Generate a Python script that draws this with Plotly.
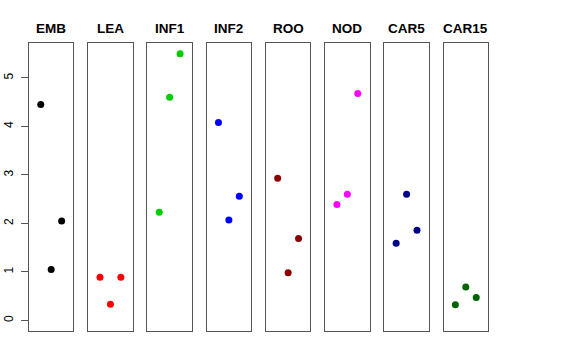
import plotly.graph_objects as go

categories = ["EMB", "LEA", "INF1", "INF2", "ROO", "NOD", "CAR5", "CAR15"]
colors = ["#000000", "#FF0000", "#00CD00", "#0000FF", "#8B0000", "#FF00FF", "#00008B", "#006400"]
# values in each panel, listed left-to-right by jitter position
values = {
    "EMB":   [4.45, 1.05, 2.05],
    "LEA":   [0.89, 0.33, 0.89],
    "INF1":  [2.23, 4.60, 5.50],
    "INF2":  [4.08, 2.07, 2.56],
    "ROO":   [2.93, 0.98, 1.69],
    "NOD":   [2.39, 2.60, 4.68],
    "CAR5":  [1.59, 2.60, 1.86],
    "CAR15": [0.32, 0.69, 0.47],
}
jitter = [0.765, 1.0, 1.235]
y_ticks = [0, 1, 2, 3, 4, 5]

W, H = 576, 360
left_px, right_px, top_px, bottom_px, title_px = 29, 488, 43, 331, 29
n = len(categories)
panel_w = 44.4
gap = ((right_px - left_px) - n * panel_w) / (n - 1)
plot_w = right_px - left_px
plot_h = bottom_px - top_px

fig = go.Figure()
frame = "#555555"
for i, cat in enumerate(categories):
    ax = "" if i == 0 else str(i + 1)
    fig.add_trace(go.Scatter(
        x=jitter, y=values[cat], mode="markers",
        marker=dict(color=colors[i], size=7),
        xaxis="x" + ax, yaxis="y" + ax, showlegend=False, hoverinfo="y"))
    x0 = (i * (panel_w + gap)) / plot_w
    x1 = min(1.0, (i * (panel_w + gap) + panel_w) / plot_w)
    xa = dict(domain=[x0, x1], range=[0.5, 1.5], showgrid=False, zeroline=False,
              showticklabels=False, ticks="", showline=True, mirror=True,
              linecolor=frame, linewidth=1, anchor="y" + ax, automargin=False)
    ya = dict(domain=[0, 1], range=[-0.22, 5.72],
              showgrid=False, zeroline=False, showline=True, mirror=True,
              linecolor=frame, linewidth=1, anchor="x" + ax, automargin=False)
    if i == 0:
        ya.update(tickmode="array", tickvals=y_ticks, ticktext=[str(v) for v in y_ticks],
                  ticks="outside", ticklen=7, tickcolor=frame, tickangle=-90,
                  ticklabelstandoff=3,
                  tickfont=dict(family="Liberation Sans, Arial", size=12, color="#000000"))
    else:
        ya.update(showticklabels=False, ticks="")
    fig.layout["xaxis" + ax] = xa
    fig.layout["yaxis" + ax] = ya
    fig.add_annotation(text="<b>" + cat + "</b>", xref="x" + ax + " domain", yref="paper",
                       x=0.5, y=1 + (top_px - title_px) / plot_h, yanchor="middle", xanchor="center",
                       showarrow=False,
                       font=dict(family="Liberation Sans, Arial", size=13.5, color="#000000"))

fig.update_layout(width=W, height=H,
                  margin=dict(l=left_px, r=W - right_px, t=top_px, b=H - bottom_px, autoexpand=False),
                  plot_bgcolor="white", paper_bgcolor="white")
fig.write_html("out.html", config={"displayModeBar": False},
               post_script="document.body.style.margin='0';")
